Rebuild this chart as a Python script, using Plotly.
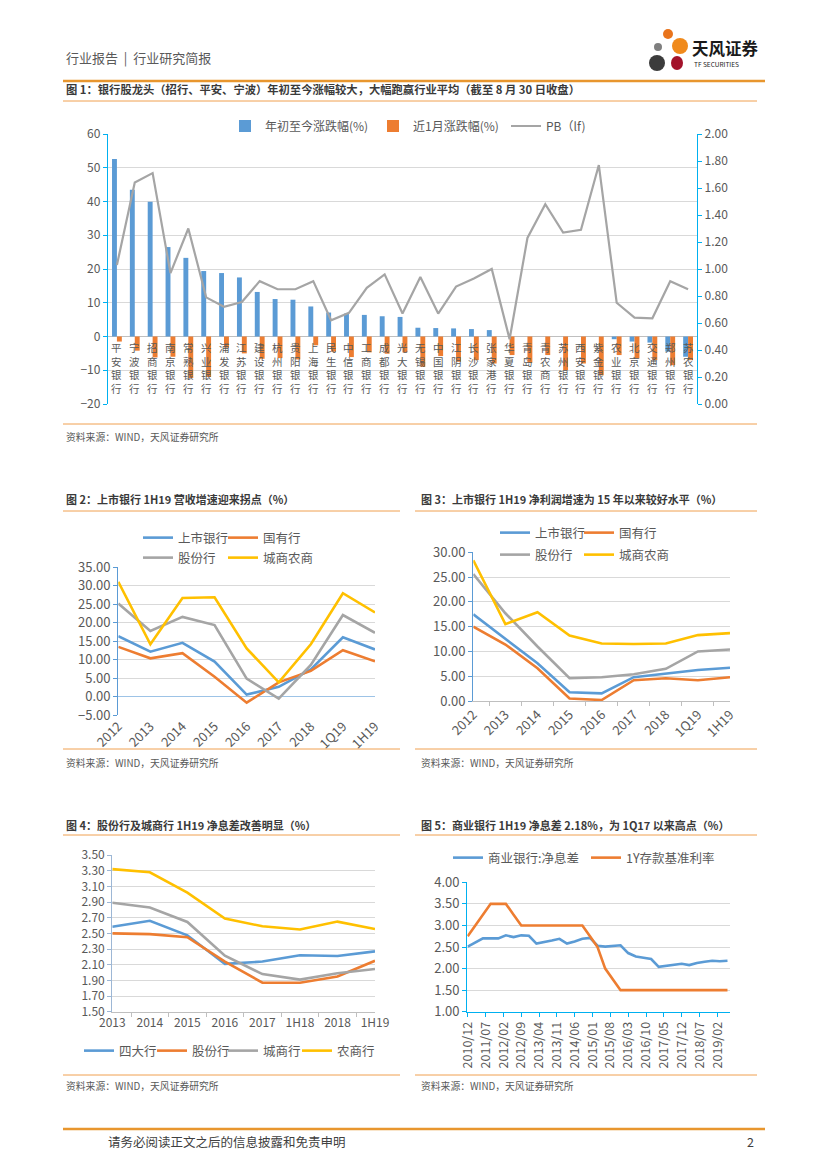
import plotly.graph_objects as go

W, H = 827, 1169


def px(x):
    return x / W


def py(y):
    return 1 - y / H


FONT = "Noto Sans CJK SC"
BLUE = "#5B9BD5"
ORANGE = "#ED7D31"
GRAY = "#A5A5A5"
YELLOW = "#FFC000"
TICK = "#595959"
GRID = "#D9D9D9"
CYAN = "#00B0F0"
LINE_OR = "#F0A050"

# ---------------- Chart 1 data ----------------
banks = ["平安银行", "宁波银行", "招商银行", "南京银行", "常熟银行", "兴业银行", "浦发银行",
         "江苏银行", "建设银行", "杭州银行", "贵阳银行", "上海银行", "民生银行", "中信银行",
         "工商银行", "成都银行", "光大银行", "无锡银行", "中国银行", "江阴银行", "长沙银行",
         "张家港行", "华夏银行", "青岛银行", "青农商行", "苏州银行", "西安银行", "紫金银行",
         "农业银行", "北京银行", "交通银行", "郑州银行", "苏农银行"]
ytd_chg = [52.6, 43.5, 39.9, 26.5, 23.3, 19.4, 18.8, 17.5, 13.2, 11.1, 10.9, 8.9, 7.1, 6.8,
           6.4, 6.0, 5.8, 2.6, 2.5, 2.4, 2.2, 1.9, 0.0, 0.0, 0.0, 0.0, 0.0, 0.0,
           -0.8, -1.5, -1.8, -4.5, -6.0]
month_chg = [-1.5, -4.2, -6.2, -6.0, -12.3, -12.0, -3.3, -5.0, -6.6, -6.4, -6.8, -2.6, -4.5,
             -6.1, -4.7, -5.1, -4.7, -9.0, -5.8, -7.5, -7.0, -8.0, -5.5, -7.8, -5.5, -10.0,
             -8.0, -11.5, -5.5, -6.5, -7.0, -8.5, -7.0]
pb_lf = [1.03, 1.64, 1.71, 0.97, 1.30, 0.79, 0.72, 0.755, 0.91, 0.85, 0.85, 0.91, 0.62, 0.675,
         0.86, 0.96, 0.67, 0.94, 0.67, 0.87, 0.93, 1.00, 0.48, 1.23, 1.48, 1.27, 1.29, 1.77,
         0.75, 0.64, 0.635, 0.91, 0.85]

# ---------------- Chart 2 / 3 data ----------------
periods9 = ["2012", "2013", "2014", "2015", "2016", "2017", "2018", "1Q19", "1H19"]
rev_listed = [16.4, 12.2, 14.6, 9.5, 0.6, 2.7, 7.4, 16.1, 12.8]
rev_soe = [13.5, 10.4, 11.8, 5.4, -1.6, 3.9, 7.0, 12.6, 9.6]
rev_jsb = [25.2, 17.8, 21.6, 19.4, 4.9, -0.5, 8.6, 22.1, 17.3]
rev_city = [31.1, 14.2, 26.7, 26.9, 13.1, 3.9, 14.2, 28.0, 22.8]

np_listed = [17.5, 12.6, 7.6, 1.75, 1.55, 4.8, 5.6, 6.25, 6.7]
np_soe = [15.0, 11.4, 6.6, 0.5, 0.2, 4.2, 4.6, 4.2, 4.8]
np_jsb = [25.6, 17.7, 11.0, 4.6, 4.8, 5.4, 6.5, 10.0, 10.4]
np_city = [28.4, 15.5, 17.9, 13.2, 11.6, 11.5, 11.6, 13.3, 13.7]

# ---------------- Chart 4 data ----------------
periods8 = ["2013", "2014", "2015", "2016", "2017", "1H18", "2018", "1H19"]
nim_big4 = [2.585, 2.66, 2.475, 2.11, 2.14, 2.22, 2.21, 2.27]
nim_jsb = [2.50, 2.49, 2.45, 2.14, 1.87, 1.87, 1.95, 2.15]
nim_city = [2.89, 2.83, 2.645, 2.215, 1.98, 1.91, 1.99, 2.045]
nim_rural = [3.32, 3.28, 3.02, 2.69, 2.59, 2.55, 2.65, 2.555]

# ---------------- Chart 5 data ----------------
quarters = ["2010-12", "2011-03", "2011-06", "2011-09", "2011-12", "2012-03", "2012-06",
            "2012-09", "2012-12", "2013-03", "2013-06", "2013-09", "2013-12", "2014-03",
            "2014-06", "2014-09", "2014-12", "2015-03", "2015-06", "2015-09", "2015-12",
            "2016-03", "2016-06", "2016-09", "2016-12", "2017-03", "2017-06", "2017-09",
            "2017-12", "2018-03", "2018-06", "2018-09", "2018-12", "2019-03", "2019-06"]
nim_cb = [2.51, 2.60, 2.70, 2.70, 2.70, 2.77, 2.73, 2.77, 2.76, 2.58, 2.61, 2.65, 2.69,
          2.58, 2.63, 2.69, 2.71, 2.53, 2.51, 2.53, 2.54, 2.36, 2.28, 2.25, 2.22, 2.04,
          2.06, 2.08, 2.11, 2.08, 2.13, 2.16, 2.18, 2.17, 2.18]
dep_1y = [2.75, 3.00, 3.25, 3.50, 3.50, 3.50, 3.25, 3.00, 3.00, 3.00, 3.00, 3.00, 3.00,
          3.00, 3.00, 3.00, 2.75, 2.50, 2.00, 1.75, 1.50, 1.50, 1.50, 1.50, 1.50, 1.50,
          1.50, 1.50, 1.50, 1.50, 1.50, 1.50, 1.50, 1.50, 1.50]


def tf(size=12.5, color=TICK):
    return dict(family=FONT, size=size, color=color)


legends = {}
_leg_n = [1]


def new_legend(text_x, y, size=12.5):
    """one legend per entry so every entry can be placed like the reference"""
    _leg_n[0] += 1
    lid = "legend%d" % _leg_n[0]
    legends[lid] = dict(x=px(text_x - 40), y=py(y), xanchor="left", yanchor="middle",
                        orientation="h", bgcolor="rgba(0,0,0,0)", font=tf(size),
                        itemwidth=30, borderwidth=0, visible=True)
    return lid


fig = go.Figure()

# Chart 1 traces
fig.add_trace(go.Bar(x=banks, y=ytd_chg, name="年初至今涨跌幅(%)", marker_color=BLUE,
                     xaxis="x", yaxis="y", showlegend=True,
                     legend=new_legend(265, 126, 12)))
fig.add_trace(go.Bar(x=banks, y=month_chg, name="近1月涨跌幅(%)", marker_color=ORANGE,
                     xaxis="x", yaxis="y", showlegend=True,
                     legend=new_legend(413, 126, 12)))
fig.add_trace(go.Scatter(x=banks, y=pb_lf, name="PB（lf)", mode="lines",
                         line=dict(color=GRAY, width=2.2), xaxis="x", yaxis="y2",
                         showlegend=True, legend=new_legend(546, 126, 12)))

# Chart 2 traces
for nm, vals, col, tx, ty in [("上市银行", rev_listed, BLUE, 178, 538),
                              ("国有行", rev_soe, ORANGE, 263, 538),
                              ("股份行", rev_jsb, GRAY, 178, 558),
                              ("城商农商", rev_city, YELLOW, 263, 558)]:
    fig.add_trace(go.Scatter(x=periods9, y=vals, name=nm, mode="lines",
                             line=dict(color=col, width=2.6), xaxis="x2", yaxis="y3",
                             showlegend=True, legend=new_legend(tx, ty)))

# Chart 3 traces
for nm, vals, col, tx, ty in [("上市银行", np_listed, BLUE, 535, 533),
                              ("国有行", np_soe, ORANGE, 619, 533),
                              ("股份行", np_jsb, GRAY, 535, 555),
                              ("城商农商", np_city, YELLOW, 619, 555)]:
    fig.add_trace(go.Scatter(x=periods9, y=vals, name=nm, mode="lines",
                             line=dict(color=col, width=2.6), xaxis="x3", yaxis="y4",
                             showlegend=True, legend=new_legend(tx, ty)))

# Chart 4 traces
for nm, vals, col, tx in [("四大行", nim_big4, BLUE, 119), ("股份行", nim_jsb, ORANGE, 192),
                          ("城商行", nim_city, GRAY, 263), ("农商行", nim_rural, YELLOW, 337)]:
    fig.add_trace(go.Scatter(x=periods8, y=vals, name=nm, mode="lines",
                             line=dict(color=col, width=2.6), xaxis="x4", yaxis="y5",
                             showlegend=True, legend=new_legend(tx, 1051)))

# Chart 5 traces
fig.add_trace(go.Scatter(x=quarters, y=nim_cb, name="商业银行:净息差", mode="lines",
                         line=dict(color=BLUE, width=2.6), xaxis="x5", yaxis="y6",
                         showlegend=True, legend=new_legend(488, 858)))
fig.add_trace(go.Scatter(x=quarters, y=dep_1y, name="1Y存款基准利率", mode="lines",
                         line=dict(color=ORANGE, width=2.6), xaxis="x5", yaxis="y6",
                         showlegend=True, legend=new_legend(626, 858)))


def yax(dom_top, dom_bot, anchor, rng, dtick, fmt, linecolor, size=13, **kw):
    d = dict(domain=[py(dom_bot), py(dom_top)], anchor=anchor, range=rng, dtick=dtick,
             tick0=rng[0], tickformat=fmt, showline=True, linecolor=linecolor,
             linewidth=1.3, ticks="outside", tickcolor=linecolor, ticklen=4,
             gridcolor=GRID, gridwidth=1, zeroline=False, tickfont=tf(size),
             automargin=False)
    d.update(kw)
    return d


layout = dict(
    width=W, height=H, margin=dict(l=0, r=0, t=0, b=0, autoexpand=False),
    template="none", showlegend=True,
    paper_bgcolor="white", plot_bgcolor="white",
    barmode="group", bargap=0.45, bargroupgap=0.0,
    font=dict(family=FONT, color=TICK),
    # chart 1
    xaxis=dict(domain=[px(108), px(697)], anchor="y", type="category",
               showticklabels=False, showgrid=False, zeroline=False, showline=False,
               ticks="", automargin=False),
    yaxis=yax(134, 404, "x", [-20, 60], 10, None, CYAN, size=12, zeroline=True,
              zerolinecolor="#BFBFBF", zerolinewidth=1),
    yaxis2=dict(overlaying="y", anchor="x", side="right", range=[0, 2], dtick=0.2,
                tick0=0, tickformat=".2f", showgrid=False, zeroline=False, showline=True,
                linecolor=CYAN, linewidth=1.3, ticks="outside", tickcolor=CYAN,
                ticklen=4, tickfont=tf(12), automargin=False),
    # chart 2
    xaxis2=dict(domain=[px(118.3), px(375)], anchor="y3", type="category", tickangle=-45,
                showgrid=False, zeroline=False, showline=False, ticks="",
                tickfont=tf(13), automargin=False),
    yaxis3=yax(567.3, 715.3, "x2", [-5, 35], 5, ".2f", "#5B9BD5", zeroline=True,
               zerolinecolor="#9DC3E6", zerolinewidth=1.3),
    # chart 3
    xaxis3=dict(domain=[px(473.3), px(730)], anchor="y4", type="category", tickangle=-45,
                showgrid=False, zeroline=False, showline=True, linecolor="#BFBFBF",
                ticks="outside", tickson="boundaries", ticklen=4, tickcolor="#BFBFBF",
                tickfont=tf(13), automargin=False),
    yaxis4=yax(552.3, 701, "x3", [0, 30], 5, ".2f", "#5B9BD5"),
    # chart 4
    xaxis4=dict(domain=[px(112.3), px(375)], anchor="y5", type="category", tickangle=0,
                showgrid=False, zeroline=False, showline=True, linecolor="#BFBFBF",
                ticks="outside", tickson="boundaries", ticklen=4, tickcolor="#BFBFBF",
                tickfont=tf(12), automargin=False),
    yaxis5=yax(855, 1011.7, "x4", [1.5, 3.5], 0.2, ".2f", "#9DB7D5", size=12),
    # chart 5
    xaxis5=dict(domain=[px(467.3), px(730)], anchor="y6", type="date",
                range=["2010-11-26", "2019-07-01"], tick0="2010-12-01", dtick="M7",
                tickformat="%Y/%m", tickangle=-90, showgrid=False, zeroline=False,
                showline=True, linecolor=CYAN, linewidth=1.3, ticks="outside",
                tickcolor=CYAN, ticklen=4, tickfont=tf(12.5), automargin=False),
    yaxis6=yax(882.3, 1011.7, "x5", [1, 4], 0.5, ".2f", CYAN),
)
layout.update(legends)
fig.update_layout(**layout)

# ---------- category labels for chart 1 (vertical text at zero line) ----------
annotations = []
for b in banks:
    annotations.append(dict(x=b, y=0, xref="x", yref="y", text="<br>".join(b),
                            showarrow=False, yanchor="top", xanchor="center", yshift=-1,
                            font=tf(10.5)))


def txt(x, y, s, size, color="#404040", bold=False, xanchor="left"):
    annotations.append(dict(x=px(x), y=py(y), xref="paper", yref="paper",
                            text=("<b>%s</b>" % s) if bold else s, showarrow=False,
                            xanchor=xanchor, yanchor="middle",
                            font=dict(family=FONT, size=size, color=color)))


TITLE_C = "#3A3A3A"
txt(64, 57, "行业报告 &nbsp;|&nbsp; 行业研究简报", 13, "#595959")
txt(64, 89, "图 1：银行股龙头（招行、平安、宁波）年初至今涨幅较大，大幅跑赢行业平均（截至 8 月 30 日收盘）",
    11.3, TITLE_C, bold=True)
txt(64, 499, "图 2：上市银行 1H19 营收增速迎来拐点（%）", 11, TITLE_C, bold=True)
txt(419, 499, "图 3：上市银行 1H19 净利润增速为 15 年以来较好水平（%）", 11, TITLE_C, bold=True)
txt(64, 825, "图 4：股份行及城商行 1H19 净息差改善明显（%）", 11, TITLE_C, bold=True)
txt(419, 825, "图 5：商业银行 1H19 净息差 2.18%，为 1Q17 以来高点（%）", 11, TITLE_C, bold=True)
SRC = "资料来源：WIND，天风证券研究所"
txt(64, 437, SRC, 9.8, "#595959")
txt(64, 763, SRC, 9.8, "#595959")
txt(419, 763, SRC, 9.8, "#595959")
txt(64, 1086, SRC, 9.8, "#595959")
txt(419, 1086, SRC, 9.8, "#595959")
txt(106, 1141, "请务必阅读正文之后的信息披露和免责申明", 12.5, "#404040")
txt(756, 1141, "2", 12.5, "#404040", xanchor="right")
# logo text
txt(690, 48, "天风证券", 16.5, "#1A1A1A", bold=True)
txt(692, 64, "TF SECURITIES", 6.5, "#1A1A1A")

fig.update_layout(annotations=annotations)

# ---------- page lines & logo blobs ----------
shapes = []


def hline(y, x0, x1, color=LINE_OR, width=1):
    shapes.append(dict(type="line", xref="paper", yref="paper", x0=px(x0), x1=px(x1),
                       y0=py(y), y1=py(y), line=dict(color=color, width=width)))


hline(81, 63, 765, "#E8962E", 2.5)
hline(101, 63, 757)
hline(424, 63, 757)
hline(511, 63, 400)
hline(511, 415, 757)
hline(749, 63, 400)
hline(749, 415, 757)
hline(835, 63, 400)
hline(835, 415, 757)
hline(1075, 63, 400)
hline(1075, 415, 757)
hline(1129, 63, 765, "#E8962E", 2.5)


def blob(cx, cy, rx, ry, color):
    shapes.append(dict(type="circle", xref="paper", yref="paper", x0=px(cx - rx),
                       x1=px(cx + rx), y0=py(cy + ry), y1=py(cy - ry),
                       fillcolor=color, line=dict(width=0)))


blob(668, 34, 5, 5, "#E9741C")
blob(680, 46, 8, 8, "#F08A1C")
blob(658, 47, 4, 4, "#7F7F7F")
blob(677, 63, 6, 7, "#A3122A")
blob(657, 63, 8, 8, "#3C3C3C")

fig.update_layout(shapes=shapes)

fig.write_html("out.html", config={"displayModeBar": False},
               post_script="document.body.style.margin='0';"
                           "document.body.style.overflow='hidden';")
